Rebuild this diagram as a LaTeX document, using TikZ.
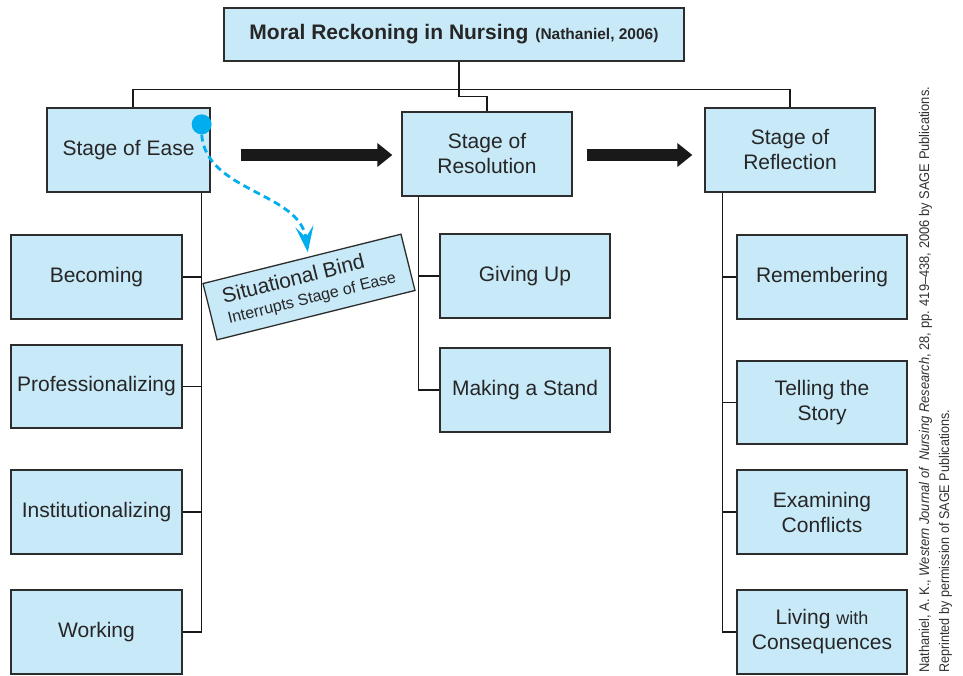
\documentclass[tikz,border=0pt]{standalone}
\usepackage{fontspec}
\usepackage{graphicx}
\setmainfont{Liberation Sans}
\usetikzlibrary{arrows.meta,calc}
\definecolor{boxfill}{RGB}{200,233,248}
\definecolor{boxdraw}{RGB}{45,45,45}
\definecolor{cyanx}{RGB}{0,174,239}
\definecolor{credit}{RGB}{50,50,50}
\begin{document}
\begin{tikzpicture}[x=1pt,y=-1pt,
  box/.style={draw=boxdraw, fill=boxfill, line width=1.3pt, inner sep=0pt, align=center,
    font=\fontsize{21}{25}\selectfont, text=black!85},
  conn/.style={draw=black!90, line width=1.2pt},
  bigarrow/.style={draw=black!90, line width=12pt, -{Triangle[length=15pt,width=23pt]}},
  bluedash/.style={draw=cyanx, line width=2.8pt, dash pattern=on 7pt off 4.5pt,
    -{Stealth[length=26pt,width=18pt,inset=11pt]}},
  creditstyle/.style={rotate=90, anchor=base west, inner sep=0pt, text=credit}
]
\useasboundingbox (0,0) rectangle (963,676);
\fill[white] (0,0) rectangle (963,676);

% top level
\node[box, minimum width=460pt, minimum height=53pt] (title) at (454,34.5)
  {\textbf{Moral Reckoning in Nursing}\hspace{7pt}{\fontsize{15.5}{18}\selectfont\textbf{(Nathaniel, 2006)}}};

% stages
\node[box, minimum width=163pt, minimum height=84pt] (ease) at (128.5,150) {Stage of Ease};
\node[box, minimum width=170pt, minimum height=84pt] (resolution) at (487,154) {Stage of\\Resolution};
\node[box, minimum width=170pt, minimum height=84pt] (reflection) at (790,150) {Stage of\\Reflection};

% left column
\node[box, minimum width=171pt, minimum height=84pt] (becoming) at (96.5,277) {Becoming};
\node[box, minimum width=171pt, minimum height=83pt] (prof) at (96.5,386.5) {Professionalizing};
\node[box, minimum width=171pt, minimum height=84pt] (inst) at (96.5,512) {Institutionalizing};
\node[box, minimum width=171pt, minimum height=84pt] (working) at (96.5,632) {Working};

% middle column
\node[box, minimum width=170pt, minimum height=84pt] (givingup) at (525,276) {Giving Up};
\node[box, minimum width=170pt, minimum height=84pt] (stand) at (525,390) {Making a Stand};

% right column
\node[box, minimum width=170pt, minimum height=84pt] (remembering) at (822,277) {Remembering};
\node[box, minimum width=170pt, minimum height=83pt] (story) at (822,402.5) {Telling the\\Story};
\node[box, minimum width=170pt, minimum height=84pt] (examining) at (822,512) {Examining\\Conflicts};
\node[box, minimum width=170pt, minimum height=84pt] (living) at (822,632)
  {Living {\fontsize{18}{25}\selectfont with}\\Consequences};

% situational bind
\node[box, rotate=14, minimum width=204pt, minimum height=58pt, align=left,
  font=\fontsize{16}{21}\selectfont] (bind) at (309,287)
  {{\fontsize{21}{21}\selectfont Situational Bind}\\Interrupts Stage of Ease};

% top connectors
\draw[conn] ([xshift=5pt]title.south) -- ++(0,35) -| (resolution.north);
\draw[conn] ([xshift=4.5pt]ease.north) -- ++(0,-18) -| (reflection.north);

% trunks
\coordinate (tL) at ([xshift=-9pt]ease.south east);
\draw[conn] (tL) |- (working.east);
\foreach \n in {becoming,prof,inst} \draw[conn] (\n.east) -- (\n.east -| tL);

\coordinate (tM) at ([xshift=17pt]resolution.south west);
\draw[conn] (tM) |- (stand.west);
\draw[conn] (givingup.west) -- (givingup.west -| tM);

\coordinate (tR) at ([xshift=18pt]reflection.south west);
\draw[conn] (tR) |- (living.west);
\foreach \n in {remembering,story,examining} \draw[conn] (\n.west) -- (\n.west -| tR);

% big arrows
\draw[bigarrow] ([shift={(30,5)}]ease.east) -- ([shift={(-9,1)}]resolution.west);
\draw[bigarrow] ([shift={(14,1)}]resolution.east) -- ([shift={(-12,5)}]reflection.west);

% blue dot and dashed arrow
\node[circle, fill=cyanx, minimum size=20pt, inner sep=0pt] (dot) at ([shift={(-9,17)}]ease.north east) {};
\draw[bluedash] (dot.south) .. controls (206,192) and (300,192) .. ([shift={(6,-6)}]bind.north);

% credit
\node[creditstyle] (cr1) at (929,673)
  {\resizebox{586pt}{\height}{\fontsize{14}{16}\selectfont Nathaniel, A. K., \textit{Western Journal of\ \ Nursing Research}, 28, pp. 419--438, 2006 by SAGE Publications.}};
\node[creditstyle] (cr2) at (949,673)
  {\resizebox{263pt}{\height}{\fontsize{14}{16}\selectfont Reprinted by permission of SAGE Publications.}};
\end{tikzpicture}
\end{document}
